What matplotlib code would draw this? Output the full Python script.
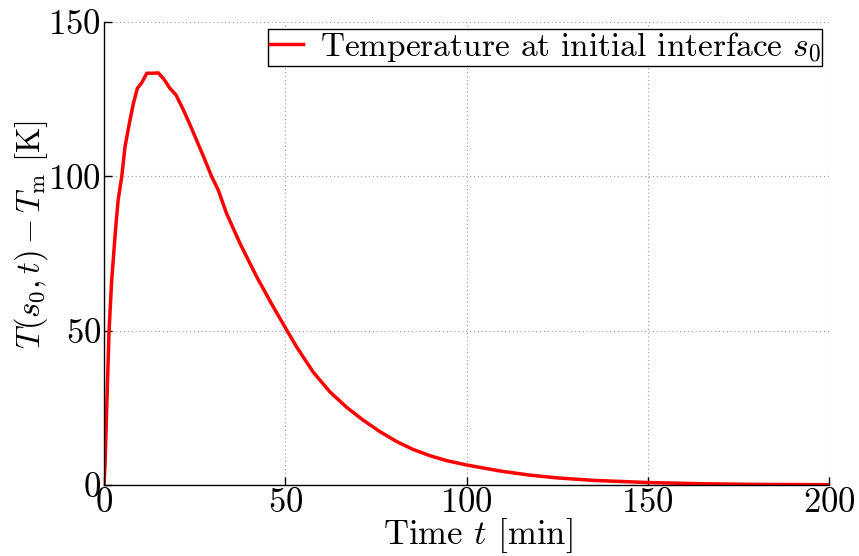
import matplotlib
matplotlib.use("Agg")
import matplotlib.pyplot as plt

plt.rcParams['font.family'] = 'serif'
plt.rcParams['font.serif'] = ['cmr10', 'DejaVu Serif']
plt.rcParams['mathtext.fontset'] = 'cm'
plt.rcParams['axes.formatter.use_mathtext'] = True

# Time [min]
time_min = [0, 0.3, 0.7, 1.4, 2.1, 3.2, 3.9, 4.9, 5.8, 7.0, 8.1, 9.2, 10.4, 11.8, 13.2,
            15.0, 16.5, 18.2, 19.9, 21.9, 23.7, 25.5, 27.6, 29.7, 31.5, 33.8, 37.5, 42.1,
            46.7, 50.4, 53.2, 57.7, 62.3, 66.9, 71.5, 76.1, 80.7, 85.3, 89.9, 94.5, 100,
            103.7, 110, 117.5, 125, 135, 150, 165, 180, 200]
# Temperature difference T(s0,t) - Tm [K]
temp_diff = [0, 7, 23, 50, 66, 83, 92.3, 100, 109.6, 117.2, 123.6, 128.5, 130.3, 133.4, 133.4,
             133.5, 131.5, 128.5, 126.3, 121.5, 116.8, 111.8, 106, 99.9, 95.6, 88, 78.3, 67.5,
             57.7, 50.2, 44.6, 36.6, 30.2, 25.2, 21.0, 17.3, 14.1, 11.5, 9.5, 7.9, 6.5,
             5.7, 4.4, 3.2, 2.3, 1.5, 0.8, 0.4, 0.2, 0.1]

x_ticks = [0, 50, 100, 150, 200]
y_ticks = [0, 50, 100, 150]

fig = plt.figure(figsize=(8.59, 5.56), dpi=100)
ax = fig.add_axes([104/859, 71/556, 725/859, 463/556])

ax.plot(time_min, temp_diff, color='red', lw=2.5,
        label=r'Temperature at initial interface $s_0$')

ax.set_xlim(0, 200)
ax.set_ylim(0, 150)
ax.set_xticks(x_ticks)
ax.set_yticks(y_ticks)
ax.grid(True, linestyle=(0, (1, 2.5)), color='#999999', lw=0.8)
for s in ['top', 'right']:
    ax.spines[s].set_visible(False)
for s in ['left', 'bottom']:
    ax.spines[s].set_linewidth(1.0)
ax.tick_params(direction='in', length=6, width=1, labelsize=25, pad=2,
               top=False, right=False)

ax.set_xlabel(r'Time $t$ [min]', fontsize=25, va='top')
ax.xaxis.set_label_coords(0.516, -0.068)
ax.set_ylabel(r'$T(s_0,t)-T_{\mathrm{m}}$ [K]', fontsize=23.5)
ax.yaxis.set_label_coords(-0.074, 0.542)

leg = ax.legend(loc='upper right', fontsize=24, frameon=True, fancybox=False,
                edgecolor='black', framealpha=1, handlelength=1.0,
                handletextpad=0.5, borderpad=0.05, borderaxespad=0.2)
leg.get_frame().set_linewidth(1.0)

fig.savefig('out.png', dpi=100)
